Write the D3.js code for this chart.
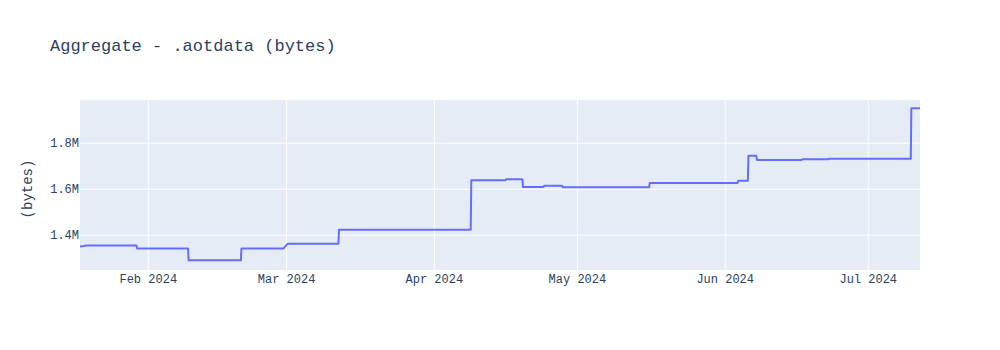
<!DOCTYPE html>
<html>
<head>
<meta charset="utf-8">
<script src="https://cdn.jsdelivr.net/npm/d3@7"></script>
<style>
  body { margin: 0; background: #fff; }
  text { font-family: "Courier New", "Liberation Mono", monospace; fill: #2a3f5f; }
</style>
</head>
<body>
<script>
// step series: each change is a pair of points
const dates = [
  '2024-01-17T16:20', '2024-01-18T15:00', '2024-01-18T18:00', '2024-01-29T13:00',
  '2024-01-29T16:00', '2024-02-09T08:00', '2024-02-09T11:00', '2024-02-20T10:00',
  '2024-02-20T13:00', '2024-02-29T08:00', '2024-03-01T06:00', '2024-03-11T21:00',
  '2024-03-12T00:00', '2024-04-08T15:00', '2024-04-08T18:00', '2024-04-15T22:00',
  '2024-04-16T01:00', '2024-04-19T11:00', '2024-04-19T14:00', '2024-04-23T22:00',
  '2024-04-24T01:00', '2024-04-27T19:00', '2024-04-27T22:00', '2024-05-16T01:00',
  '2024-05-16T04:00', '2024-06-03T14:00', '2024-06-03T17:00', '2024-06-05T18:00',
  '2024-06-05T21:00', '2024-06-07T12:00', '2024-06-07T16:00', '2024-06-17T00:00',
  '2024-06-17T03:00', '2024-06-22T14:00', '2024-06-22T17:00', '2024-07-09T22:00',
  '2024-07-10T01:00', '2024-07-11T20:30'
];
const bytes = [
  1351000, 1353000, 1355000, 1355000,
  1342000, 1342000, 1291000, 1291000,
  1342000, 1342000, 1363500, 1363500,
  1424000, 1424000, 1639000, 1639000,
  1643500, 1643500, 1610000, 1610000,
  1615700, 1615700, 1608700, 1608700,
  1627000, 1627000, 1637000, 1637000,
  1746000, 1746000, 1727000, 1727000,
  1730000, 1730000, 1733000, 1733000,
  1952000, 1952000
];
const yTicks = [1400000, 1600000, 1800000];
const xTicks = ['2024-02-01', '2024-03-01', '2024-04-01', '2024-05-01', '2024-06-01', '2024-07-01'];

const width = 1000, height = 350;
const margin = { top: 100, right: 80, bottom: 80, left: 80 };
const parse = d3.isoParse;
const series = dates.map((d, i) => ({ t: parse(d), v: bytes[i] }));

const svg = d3.select('body').append('svg')
  .attr('width', width)
  .attr('height', height);

const x = d3.scaleTime()
  .domain(d3.extent(series, d => d.t))
  .range([margin.left, width - margin.right]);

const y = d3.scaleLinear()
  .domain([1249000, 1988000])
  .range([height - margin.bottom, margin.top]);

svg.append('rect')
  .attr('x', margin.left)
  .attr('y', margin.top)
  .attr('width', width - margin.left - margin.right)
  .attr('height', height - margin.top - margin.bottom)
  .attr('fill', '#e5ecf6');

// grid
svg.append('g')
  .selectAll('line')
  .data(xTicks.map(parse))
  .enter().append('line')
  .attr('x1', d => x(d)).attr('x2', d => x(d))
  .attr('y1', margin.top).attr('y2', height - margin.bottom)
  .attr('stroke', '#fff').attr('stroke-width', 1);

svg.append('g')
  .selectAll('line')
  .data(yTicks)
  .enter().append('line')
  .attr('x1', margin.left).attr('x2', width - margin.right)
  .attr('y1', d => y(d)).attr('y2', d => y(d))
  .attr('stroke', '#fff').attr('stroke-width', 1);

// axes labels
const fmtDate = d3.timeFormat('%b %Y');
svg.append('g')
  .selectAll('text')
  .data(xTicks.map(parse))
  .enter().append('text')
  .attr('x', d => x(d))
  .attr('y', height - margin.bottom + 13)
  .attr('text-anchor', 'middle')
  .attr('font-size', '12px')
  .text(fmtDate);

svg.append('g')
  .selectAll('text')
  .data(yTicks)
  .enter().append('text')
  .attr('x', margin.left - 1)
  .attr('y', d => y(d) + 4)
  .attr('text-anchor', 'end')
  .attr('font-size', '12px')
  .text(d => d3.format('.1f')(d / 1e6) + 'M');

svg.append('text')
  .attr('transform', `translate(32,${(margin.top + height - margin.bottom) / 2 + 4}) rotate(-90)`)
  .attr('text-anchor', 'middle')
  .attr('font-size', '14px')
  .text('(bytes)');

svg.append('text')
  .attr('x', 50)
  .attr('y', 51)
  .attr('font-size', '17px')
  .text('Aggregate - .aotdata (bytes)');

// line
const line = d3.line()
  .x(d => x(d.t))
  .y(d => y(d.v));

svg.append('path')
  .datum(series)
  .attr('d', line)
  .attr('fill', 'none')
  .attr('stroke', '#636efa')
  .attr('stroke-width', 2)
  .attr('stroke-linejoin', 'round');
</script>
</body>
</html>
